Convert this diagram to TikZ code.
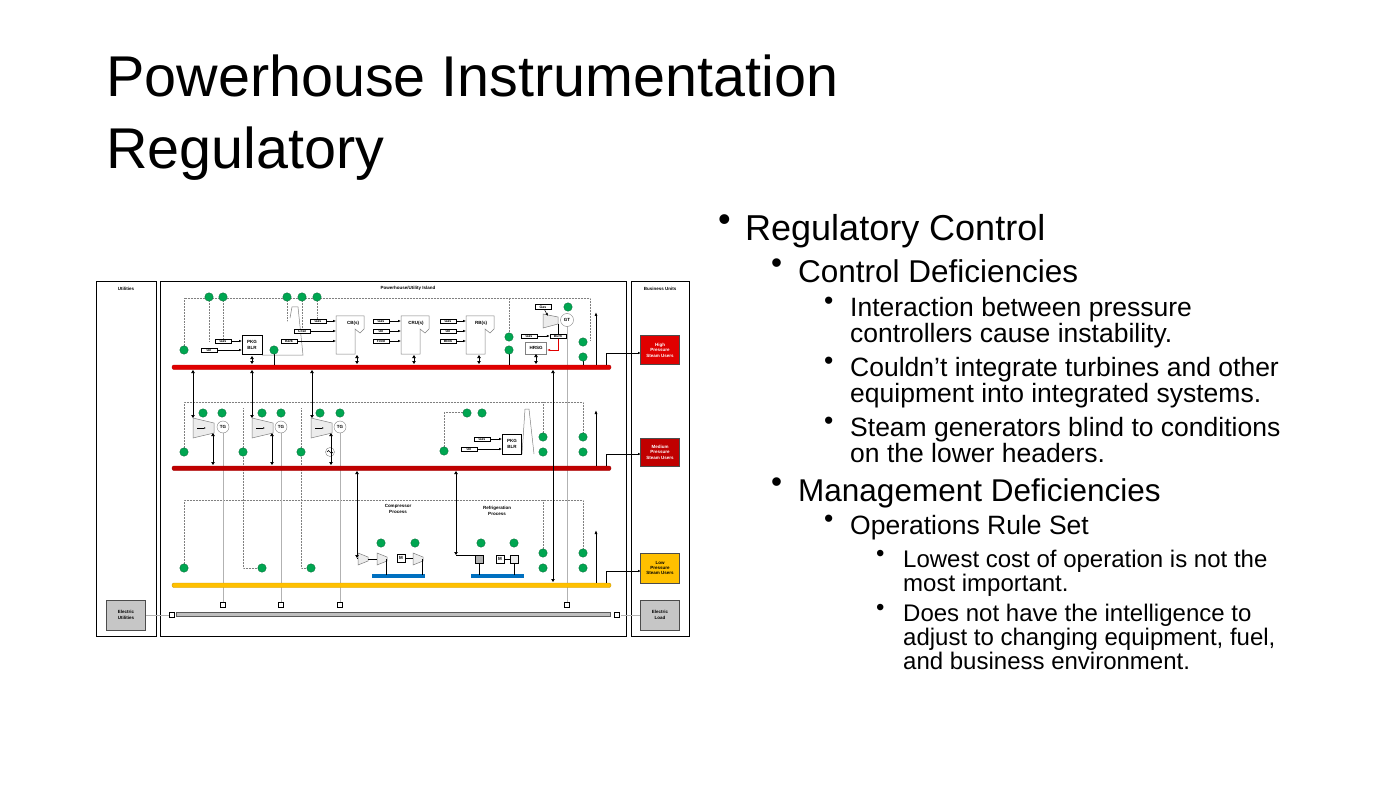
\documentclass[tikz,border=0pt]{standalone}
\usepackage{fontspec}
\setmainfont{Liberation Sans}
\usetikzlibrary{arrows.meta}
\definecolor{gr}{HTML}{00A651}
\definecolor{hp}{HTML}{E00000}
\definecolor{mp}{HTML}{C00000}
\definecolor{lp}{HTML}{FFC000}
\definecolor{bl}{HTML}{0070C0}
\begin{document}
\begin{tikzpicture}[x=1pt,y=-1pt,
 tt/.style={font=\fontsize{4.5}{5.4}\selectfont\bfseries},
 gc/.style={circle,fill=gr,draw=gr!60!black,line width=0.3pt,inner sep=0pt,minimum size=8.5pt},
 lb/.style={draw,line width=0.5pt,fill=white,minimum width=16pt,minimum height=4.5pt,inner sep=0pt,font=\fontsize{3.5}{4}\selectfont\bfseries},
 eq/.style={draw=gray,line width=0.5pt,fill=white},
 dl/.style={gray,densely dotted,line width=0.5pt},
 tl/.style={gray!60,line width=0.5pt},
 fl/.style={line width=0.9pt,-{Latex[length=3pt,width=2.5pt]}},
 vl/.style={line width=0.9pt,{Triangle[length=3pt,width=3.5pt]}-{Triangle[length=3pt,width=3.5pt]}},
 bu/.style n args={2}{font=\fontsize{#1}{#2}\selectfont,anchor=north west,inner sep=0pt,align=left}]
\useasboundingbox (0,0) rectangle (1400,786);
\fill[white] (0,0) rectangle (1400,786);
% title
\node[bu={57.5}{72}] (title) at (106,55) {Powerhouse Instrumentation\\Regulatory};
% bullets
\node[bu={36}{38}] (b1d) at (718,214) {•};
\node[bu={36}{38}] (b1) at (745,214) {Regulatory Control};
\node[bu={31.5}{32}] (b2d) at (771,259) {•};
\node[bu={31.5}{32}] (b2) at (798,259) {Control Deficiencies};
\node[bu={26.5}{26}] (b3d) at (824,297) {•};
\node[bu={26.5}{26}] (b3) at (850,297) {Interaction between pressure\\controllers cause instability.};
\node[bu={26.5}{26}] (b4d) at (824,357) {•};
\node[bu={26.5}{26}] (b4) at (850,357) {Couldn’t integrate turbines and other\\equipment into integrated systems.};
\node[bu={26.5}{26}] (b5d) at (824,417) {•};
\node[bu={26.5}{26}] (b5) at (850,417) {Steam generators blind to conditions\\on the lower headers.};
\node[bu={31.5}{32}] (b6d) at (771,478) {•};
\node[bu={31.5}{32}] (b6) at (798,478) {Management Deficiencies};
\node[bu={26.5}{26}] (b7d) at (824,515) {•};
\node[bu={26.5}{26}] (b7) at (850,515) {Operations Rule Set};
\node[bu={24}{24}] (b8d) at (876,550) {•};
\node[bu={24}{24}] (b8) at (903,550) {Lowest cost of operation is not the\\most important.};
\node[bu={24}{24}] (b9d) at (876,604) {•};
\node[bu={24}{24}] (b9) at (903,604) {Does not have the intelligence to\\adjust to changing equipment, fuel,\\and business environment.};
% frames
\draw[line width=0.8pt] (96,281) rectangle (156,636);
\draw[line width=0.8pt] (160,281) rectangle (626,636);
\draw[line width=0.8pt] (631,281) rectangle (689,636);
\node[tt] (ut) at (126,289) {Utilities};
\node[tt] (ph) at (408,288) {Powerhouse/Utility Island};
\node[tt] (bu) at (660,289) {Business Units};
% dotted control loops
\draw[dl] (184,350) -- (184,298) -- (590,298) -- (590,340);
\draw[dl] (209,297) -- (209,341); \draw[dl] (223,297) -- (223,341);
\draw[dl] (287,297) -- (287,341); \draw[dl] (302,297) -- (302,331); \draw[dl] (317,297) -- (317,321);
\draw[dl] (509,298) -- (509,333);
\draw[dl] (184,452) -- (184,402) -- (583,402) -- (583,437);
\draw[dl] (243,452) -- (243,408); \draw[dl] (301,452) -- (301,408);
\draw[dl] (444,451) -- (444,412) -- (470,412);
\draw[dl] (543,437) -- (543,402);
\draw[dl] (184,568) -- (184,500) -- (583,500) -- (583,553);
\draw[dl] (243,452) -- (243,568) -- (262,568);
\draw[dl] (301,452) -- (301,568) -- (311,568);
\draw[dl] (543,553) -- (543,500);
% thin gray electric lines
\foreach \x/\y in {223/427,281/427,340/427,567/320} \draw[tl] (\x,\y) -- (\x,603);
\draw[tl] (146,615) -- (171,615);
\draw[tl] (621,615) -- (640,615);
% headers
\draw[hp!80!black,fill=hp,rounded corners=2pt] (172,365) rectangle (611,369.5);
\draw[mp!80!black,fill=mp,rounded corners=2pt] (172,466) rectangle (611,470.5);
\draw[lp!80!black,fill=lp,rounded corners=2pt] (172,583) rectangle (611,587.5);
\draw[gray!70!black,fill=gray!50] (176,612) rectangle (610,616.5);
\foreach \x in {172,617} \draw[fill=white] (\x-2.5,612) rectangle (\x+2.5,617);
\foreach \x in {223,281,340,567} \draw[fill=white] (\x-2.5,602) rectangle (\x+2.5,607);
% HP equipment
\draw[eq] (290,318) -- (292,307) -- (298,307) -- (303,355) -- (262,355);
\node[draw,line width=0.7pt,fill=white,minimum width=20pt,minimum height=19pt,inner sep=0pt,tt,align=center] (pkg1) at (252,345) {PKG\\BLR};
\foreach \n/\x in {cb/336,cru/401,rb/466}
 \draw[eq] (\x,316) -- (\x+28,316) -- (\x+28,329) -- (\x+24,333) -- (\x+19,329) -- (\x+19,354) -- (\x,354) -- cycle;
\node[tt] (cbt) at (353,323) {CB(s)};
\node[tt] (crut) at (416,323) {CRU(s)};
\node[tt] (rbt) at (481,323) {RB(s)};
\node[lb] (l1) at (209,350) {Oil}; \node[lb] (l2) at (223,341) {Gas};
\draw[fl,line width=0.5pt] (l1) -- (242,350); \draw[fl,line width=0.5pt] (l2) -- (242,341);
\node[lb] (l3) at (289,341) {Bark}; \node[lb] (l4) at (302,331) {Coal}; \node[lb] (l5) at (318,321) {Gas};
\draw[fl,line width=0.5pt] (l3) -- (336,341); \draw[fl,line width=0.5pt] (l4) -- (336,331); \draw[fl,line width=0.5pt] (l5) -- (336,321);
\foreach \t/\y [count=\i] in {Gas/321,Oil/331,Feed/341} {\node[lb] (c\i) at (381,\y) {\t}; \draw[fl,line width=0.5pt] (c\i) -- (401,\y);}
\foreach \t/\y [count=\i] in {Gas/321,Oil/331,Blow/341} {\node[lb] (r\i) at (448,\y) {\t}; \draw[fl,line width=0.5pt] (r\i) -- (466,\y);}
\node[draw=gray,fill=white,minimum width=21pt,minimum height=12pt,inner sep=0pt,tt] (hrsg) at (536,348) {HRSG};
\node[lb] (gg) at (543,307) {Gas};
\draw[eq,fill=gray!15] (543,314) -- (558,317) -- (558,324) -- (543,328) -- cycle;
\node[draw=gray,circle,fill=white,minimum size=13pt,inner sep=0pt,tt] (gt) at (567,320) {GT};
\draw[fl,line width=0.5pt] (gg) -- (548,316);
\node[lb] (hg) at (529,336) {Gas}; \node[lb] (hb) at (558,336) {Burn};
\draw[fl,line width=0.5pt] (hg) -- (hb);
\draw[line width=0.5pt] (558,324) -- (hb);
\draw[hp,line width=0.8pt,-{Latex[length=3pt]}] (hb.south) -- (558,350) -- (547,350);
% MP equipment
\foreach \x/\c in {193/223,252/281,311/340} {
 \draw[eq,fill=gray!15] (\x,418) -- (\x+21,423) -- (\x+21,433) -- (\x,438) -- cycle;
 \draw[-{Latex[length=2pt]},line width=0.4pt] (\x+4,428) -- (\x+13,428);
 \node[draw=gray,circle,fill=white,minimum size=12pt,inner sep=0pt,tt] at (\c,427) {TG};}
\node[draw=gray,circle,fill=white,minimum size=9pt,inner sep=0pt] (gen) at (330,452) {};
\draw[line width=0.4pt] (327,452) sin (328.5,450.5) cos (330,452) sin (331.5,453.5) cos (333,452);
\draw[eq] (522,454) -- (525,409) -- (529,409) -- (534,454);
\node[draw,line width=0.7pt,fill=white,minimum width=19pt,minimum height=20pt,inner sep=0pt,tt,align=center] (pkg2) at (512,444) {PKG\\BLR};
\node[lb] (m1) at (482,439) {Gas}; \node[lb] (m2) at (469,449) {Oil};
\draw[fl,line width=0.5pt] (m1) -- (502,439); \draw[fl,line width=0.5pt] (m2) -- (502,449);
% LP process
\node[tt,align=center] (cp) at (398,509) {Compressor\\[1pt]Process};
\node[tt,align=center] (rp) at (497,511) {Refrigeration\\[1pt]Process};
\fill[bl] (372,574) rectangle (425,578);
\fill[bl] (471,574) rectangle (524,578);
\foreach \x in {358,377,413} \draw[eq,fill=gray!15] (\x,553) -- (\x+10,557) -- (\x+10,561) -- (\x,565) -- cycle;
\node[draw,fill=white,minimum size=8pt,inner sep=0pt,tt] (mc) at (401,558) {M};
\node[draw,fill=gray!60,minimum size=8pt,inner sep=0pt] (rc1) at (479,559) {};
\node[draw,fill=white,minimum size=8pt,inner sep=0pt,tt] (mr) at (500,559) {M};
\node[draw,fill=gray!15,minimum size=8pt,inner sep=0pt] (rc2) at (514,559) {};
\draw[line width=0.5pt] (mr) -- (rc2) (mc) -- (413,558) (368,559) -- (377,559);
\draw[line width=0.5pt] (386,559) -- (386,575) (422,559) -- (422,575) (479,563) -- (479,575) (514,563) -- (514,575);
% steam verticals
\foreach \x/\a/\b in {193/370/418,252/370/418,312/370/418,213/433/465,272/433/465,331/433/465,553/370/582,357/471/558,456/471/555}
 \draw[vl] (\x,\a) -- (\x,\b);
\draw[line width=0.9pt] (456,555) -- (475,555);
\draw[line width=0.9pt] (357,558) -- (358,558);
\foreach \x/\t in {252/356,357/355,414/355,479/355,536/354} \draw[vl] (\x,\t) -- (\x,364);
\draw[line width=0.6pt] (274,350) -- (274,365) (509,350) -- (509,365) (583,358) -- (583,365);
\foreach \y/\top in {365/312,466/410,583/530} {
 \draw[line width=0.9pt,-{Latex[length=4pt,width=3pt]}] (596,\y) -- (596,\top);
 \draw[line width=0.9pt] (606,\y) -- (606,\y-12) -- (614,\y-12);
}
\draw[fl] (614,353) -- (641,353);
\draw[fl] (614,454) -- (641,454);
\draw[fl] (614,571) -- (641,571);
% green circles
\foreach \x/\y in {209/297,223/297,287/297,302/297,317/297,184/350,274/350,509/337,509/350,568/307,583/342,583/357,
 203/413,222/413,262/413,281/413,320/413,340/413,184/452,243/452,301/452,467/413,482/413,444/451,543/437,543/452,583/437,583/452,
 184/568,262/568,311/568,381/543,415/543,481/543,514/543,543/553,543/568,583/553,583/568}
 \node[gc] at (\x,\y) {};
% business unit boxes
\node[draw=black!70,fill=hp,minimum width=39pt,minimum height=29pt,inner sep=0pt,text=white,tt,align=center] (hpu) at (660,350) {High\\Pressure\\Steam Users};
\node[draw=black!70,fill=mp,minimum width=39pt,minimum height=28pt,inner sep=0pt,text=white,tt,align=center] (mpu) at (660,452) {Medium\\Pressure\\Steam Users};
\node[draw=black!70,fill=lp,minimum width=39pt,minimum height=30pt,inner sep=0pt,tt,align=center] (lpu) at (660,568) {Low\\Pressure\\Steam Users};
\node[draw=black!70,fill=gray!45,minimum width=39pt,minimum height=30pt,inner sep=0pt,tt,align=center] (eu) at (126,615) {Electric\\Utilities};
\node[draw=black!70,fill=gray!45,minimum width=39pt,minimum height=30pt,inner sep=0pt,tt,align=center] (el) at (660,615) {Electric\\Load};
\end{tikzpicture}
\end{document}
